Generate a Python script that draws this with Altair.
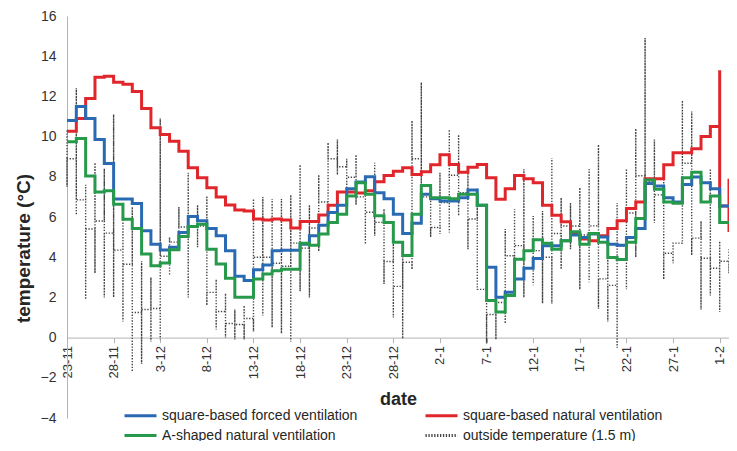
import altair as alt
import pandas as pd

# ---------------- data ----------------
tick_days = [0, 5, 10, 15, 20, 25, 30, 35, 40, 45, 50, 55, 60, 65, 70]
tick_labels = ["23-11", "28-11", "3-12", "8-12", "13-12", "18-12", "23-12",
               "28-12", "2-1", "7-1", "12-1", "17-1", "22-1", "27-1", "1-2"]

# legend is filled column by column: first column, then second column
series_names = ["square-based forced ventilation",
                "A-shaped natural ventilation",
                "square-based natural ventilation",
                "outside temperature (1.5 m)"]
series_colors = ["#2a6ab2", "#27994a", "#e1262b", "#444444"]

# daily means, day 0 = 23-11
forced = [10.8, 11.5, 10.9, 9.85, 8.66, 6.9, 6.9, 6.67, 5.31, 4.65,
          4.36, 4.49, 5.23, 6.02, 5.81, 5.43, 5.07, 4.32, 3.05, 2.84,
          3.38, 3.61, 4.32, 4.35, 4.35, 4.65, 5.07, 5.59, 6.22, 6.58,
          7.41, 7.74, 8.0, 7.21, 6.91, 6.14, 5.18, 5.69, 7.13, 6.91,
          6.8, 6.8, 6.96, 7.34, 6.58, 3.5, 2.01, 2.26, 2.92, 3.45,
          3.94, 4.57, 4.57, 4.82, 5.1, 4.98, 5.15, 5.0, 4.65, 4.6,
          4.98, 5.43, 7.67, 7.54, 6.96, 6.75, 7.62, 7.99, 7.71, 7.41,
          6.55]

natural = [10.26, 10.9, 11.9, 12.95, 13.0, 12.7, 12.6, 12.24, 11.4, 10.44,
           10.1, 9.77, 9.27, 8.45, 7.95, 7.46, 7.0, 6.6, 6.35, 6.3,
           5.9, 5.85, 5.9, 5.85, 5.45, 5.78, 5.78, 6.1, 6.58, 7.25,
           7.25, 7.2, 7.3, 7.75, 8.07, 8.28, 8.45, 8.12, 8.25, 8.6,
           9.1, 8.61, 8.23, 8.48, 8.61, 7.95, 6.88, 7.41, 8.07, 7.9,
           7.71, 6.58, 6.09, 5.76, 5.15, 4.9, 4.82, 5.07, 5.43, 5.81,
           6.42, 6.75, 7.9, 7.9, 8.6, 9.2, 9.2, 9.4, 10.0, 10.5,
           6.55]
natural_spike = 13.3          # brief peak on 1-2
natural_tail = [7.9, 5.25]    # last readings on 2-2

a_shaped = [9.75, 9.9, 8.04, 7.25, 7.3, 6.63, 5.89, 5.43, 4.16, 3.58,
            3.71, 4.37, 5.03, 5.53, 5.64, 4.4, 3.66, 2.95, 2.01, 2.01,
            2.92, 3.17, 3.33, 3.4, 3.4, 4.7, 4.6, 5.15, 5.73, 6.14,
            7.05, 7.71, 7.13, 6.06, 5.73, 4.74, 4.08, 6.14, 7.57, 6.96,
            6.96, 6.91, 7.13, 7.13, 6.58, 1.85, 1.27, 2.1, 3.9, 4.32,
            4.87, 4.7, 4.4, 4.82, 5.26, 4.65, 5.18, 4.75, 3.99, 3.88,
            4.74, 5.92, 7.84, 7.38, 6.75, 6.68, 7.95, 8.23, 6.75, 7.05,
            5.73]

# outside temperature: daily minimum and maximum (day 0 .. 71)
out_hi = [10.3, 12.4, 7.6, 8.7, 8.4, 11.1, 6.7, 6.5, 3.8, 3.0,
          10.9, 5.0, 6.5, 8.2, 6.6, 7.05, 2.9, 2.2, 1.4, 1.6,
          6.9, 7.0, 6.9, 6.9, 7.1, 8.6, 6.6, 8.1, 9.7, 9.85,
          8.9, 9.1, 7.4, 8.7, 6.4, 4.9, 4.1, 10.8, 12.7, 5.8,
          8.2, 10.35, 10.1, 8.37, 7.4, 2.4, 2.8, 5.4, 6.4, 8.37,
          6.05, 6.3, 8.94, 6.96, 6.7, 7.46, 8.37, 9.6, 4.4, 6.7,
          8.4, 10.4, 14.9, 9.85, 8.5, 4.7, 11.8, 11.25, 5.8, 8.4,
          4.8, 4.4]
out_lo = [7.5, 6.1, 1.9, 3.2, 2.0, 2.0, 0.8, -1.7, -1.3, -0.2,
          -0.1, 3.1, 4.5, 2.0, 4.5, 1.6, 0.4, 0.0, -0.1, -0.1,
          0.3, 1.1, 0.5, 0.2, -0.2, 2.3, 2.0, 4.3, 5.4, 8.1,
          7.05, 6.6, 4.65, 5.07, 2.67, 1.0, -0.05, 3.4, 7.0, 5.0,
          5.15, 5.23, 6.06, 4.4, 2.4, -0.3, -0.1, 0.7, 2.75, 2.0,
          2.6, 1.7, 1.7, 3.4, 4.4, 2.4, 2.75, 1.44, 0.8, -0.5,
          2.4, 4.0, 5.7, 5.7, 2.9, 3.7, 6.1, 4.1, 1.4, 2.1,
          1.27, 3.2]

# ---------------- tables ----------------
def step_table(vals, name):
    rows = [{"day": d, "temp": v, "idx": d, "series": name} for d, v in enumerate(vals)]
    rows.append({"day": len(vals), "temp": vals[-1], "idx": len(vals), "series": name})
    return pd.DataFrame(rows)

forced_df = step_table(forced, "square-based forced ventilation")
a_df = step_table(a_shaped, "A-shaped natural ventilation")

nat_rows = [{"day": d, "temp": v} for d, v in enumerate(natural[:-1])]
nat_rows.append({"day": len(natural) - 1, "temp": natural_spike})
nat_rows.append({"day": len(natural) - 1, "temp": natural[-1]})
for v in natural_tail:
    nat_rows.append({"day": len(natural), "temp": v})
nat_df = pd.DataFrame(nat_rows)
nat_df["idx"] = range(len(nat_df))
nat_df["series"] = "square-based natural ventilation"

# outside: each day drawn as a vertical trace over its range; consecutive
# days are joined at a level shared by both ranges
out_rows = []
n_out = len(out_lo)
prev_j = None
for d in range(n_out):
    lo, hi = out_lo[d], out_hi[d]
    if prev_j is None or abs(prev_j - hi) < abs(prev_j - lo):
        seq = [hi, lo]
    else:
        seq = [lo, hi]
    if prev_j is not None:
        seq = [prev_j] + seq
    if d + 1 < n_out:
        a, b = max(lo, out_lo[d + 1]), min(hi, out_hi[d + 1])
        if a <= b:
            j = (a + b) / 2
        else:
            j = hi if out_lo[d + 1] > hi else lo
        seq.append(j)
        prev_j = j
    for v in seq:
        out_rows.append({"day": d, "temp": v})
out_df = pd.DataFrame(out_rows)
out_df["idx"] = range(len(out_df))
out_df["series"] = "outside temperature (1.5 m)"

# ---------------- chart ----------------
FONT = "Liberation Sans"
PLOT_W, PLOT_H = 662, 402
label_expr = "[" + ",".join("'%s'" % t for t in tick_labels) + "][round(datum.value / 5)]"

x_enc = alt.X(
    "day:Q",
    scale=alt.Scale(domain=[0, 71], nice=False, zero=False),
    axis=alt.Axis(values=tick_days, labelExpr=label_expr, labelAngle=270,
                  title="date", offset=-PLOT_H * 4 / 20, grid=False,
                  domainColor="#b4b4b4", tickColor="#b4b4b4", tickSize=5,
                  labelPadding=3, labelFontSize=13, labelColor="#333333",
                  labelFont=FONT, titleFont=FONT, titleFontSize=18,
                  titleFontWeight="bold", titleColor="#262626", titlePadding=12),
)
y_enc = alt.Y(
    "temp:Q",
    scale=alt.Scale(domain=[-4, 16], nice=False, zero=False),
    axis=alt.Axis(values=list(range(-4, 17, 2)), title="temperature (°C)",
                  grid=False, ticks=False, domainColor="#b4b4b4",
                  labelPadding=11, labelFontSize=14, labelColor="#333333",
                  labelFont=FONT, titleFont=FONT, titleFontSize=19,
                  titleFontWeight="bold", titleColor="#262626",
                  titleAngle=270, titleX=-44, titleY=232,
                  titleAlign="center", titleBaseline="middle"),
)
# a 32 px long line drawn in a 16 px legend cell keeps the rows compact
legend = alt.Legend(title=None, orient="none", legendX=64, legendY=390,
                    columns=2, columnPadding=61, rowPadding=3,
                    symbolType="M-2,0H2", symbolSize=256, symbolStrokeWidth=3,
                    labelFont=FONT, labelFontSize=14, labelColor="#262626",
                    labelLimit=320, labelOffset=12)
color_enc = alt.Color("series:N", scale=alt.Scale(domain=series_names, range=series_colors),
                      legend=legend)
dash_enc = alt.StrokeDash("series:N",
                          scale=alt.Scale(domain=series_names,
                                          range=[[1, 0], [1, 0], [1, 0], [1.3, 1.6]]),
                          legend=legend)


def layer(df, interp, sw):
    return alt.Chart(df).mark_line(interpolate=interp, strokeWidth=sw,
                                   strokeJoin="miter").encode(
        x=x_enc, y=y_enc, color=color_enc, strokeDash=dash_enc,
        order=alt.Order("idx:Q"))


chart = alt.layer(
    layer(out_df, "linear", 1.4),
    layer(nat_df, "step-after", 3),
    layer(forced_df, "step-after", 3),
    layer(a_df, "step-after", 3),
).properties(
    width=PLOT_W, height=PLOT_H,
    autosize=alt.AutoSizeParams(type="none"),
    padding={"left": 59, "top": 8, "right": 0, "bottom": 23},
    background="white",
).configure_view(stroke=None)

chart.save("out.html", embed_options={"renderer": "svg", "actions": False})
